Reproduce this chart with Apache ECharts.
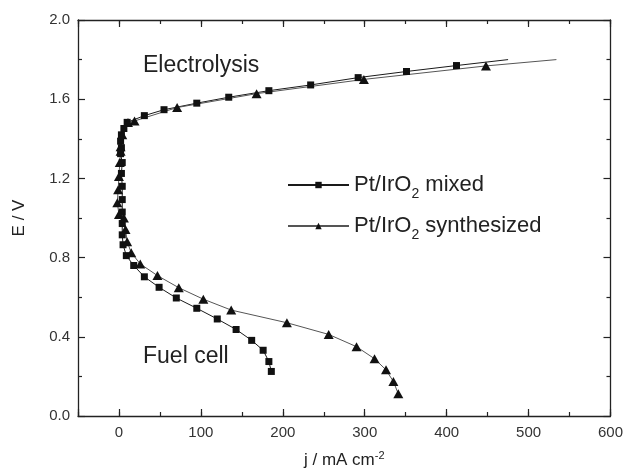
<!DOCTYPE html>
<html>
<head>
<meta charset="utf-8">
<title>Polarization curves</title>
<script src="https://cdn.jsdelivr.net/npm/echarts@6/dist/echarts.min.js"></script>
<style>
html, body { margin: 0; padding: 0; background: #fff; }
#main { width: 626px; height: 474px; }
</style>
</head>
<body>
<div id="main"></div>
<script type="text/javascript">
// points: [j in mA cm-2, E in V], from the electrolysis end down to the fuel cell end
var mixedPts = [
    [412, 1.770], [351, 1.740], [292, 1.709], [234, 1.672], [183, 1.643], [134, 1.610],
    [95, 1.580], [55, 1.547], [31, 1.517], [10, 1.483], [6, 1.452], [3, 1.420],
    [2, 1.388], [3, 1.355], [2, 1.325], [4, 1.280], [3, 1.225], [4, 1.160],
    [4, 1.093], [4, 1.030], [4, 0.972], [4, 0.915], [5, 0.865], [9, 0.810],
    [18, 0.760], [31, 0.703], [49, 0.650], [70, 0.596], [95, 0.544], [120, 0.490],
    [143, 0.437], [162, 0.382], [176, 0.332], [183, 0.275], [186, 0.225]
];
var synthPts = [
    [448, 1.768], [299, 1.700], [168, 1.628], [71, 1.558], [19, 1.490], [11, 1.482],
    [4, 1.420], [2, 1.360], [2, 1.337], [1, 1.280], [0, 1.210], [-1, 1.143],
    [-2, 1.077], [0, 1.018], [6, 1.000], [8, 0.942], [10, 0.880], [15, 0.825],
    [26, 0.768], [47, 0.709], [73, 0.648], [103, 0.590], [137, 0.535], [205, 0.471],
    [256, 0.412], [290, 0.350], [312, 0.289], [326, 0.233], [335, 0.174], [341, 0.112]
];
// the fitted lines run on past the last marker
var mixedTail = [475, 1.80];
var synthTail = [534, 1.80];
var seriesNames = ['Pt/IrO2 mixed', 'Pt/IrO2 synthesized'];
var xRange = [-50, 600];
var yRange = [0, 2.0];

var font = '"Liberation Sans", Arial, sans-serif';
var ink = '#222';
var axisLine = { show: true, onZero: false, lineStyle: { color: ink, width: 1.3 } };
var tickStyle = { color: ink, width: 1.2 };

function withTail(tail, pts) {
    return [{ value: tail, symbol: 'none' }].concat(pts);
}

// one axis with the long ticks (and labels), one overlay with the short ticks every 50
function xAxes(pos, labels) {
    return [{
        type: 'value', position: pos, min: xRange[0], max: xRange[1], splitNumber: 5,
        axisLine: axisLine,
        axisTick: { inside: true, length: 7, lineStyle: tickStyle },
        axisLabel: {
            show: labels, fontSize: 15, color: '#333', margin: 9, fontFamily: font,
            formatter: function (v) { return v < 0 ? '' : String(v); }
        },
        splitLine: { show: false }
    }, {
        type: 'value', position: pos, min: xRange[0], max: xRange[1], interval: 50,
        axisLine: { show: false, onZero: false },
        axisTick: { inside: true, length: 4, lineStyle: tickStyle },
        axisLabel: { show: false },
        splitLine: { show: false }
    }];
}

function yAxis(pos, labels) {
    return {
        type: 'value', position: pos, min: yRange[0], max: yRange[1], interval: 0.4,
        axisLine: axisLine,
        axisTick: { inside: true, length: 7, lineStyle: tickStyle },
        minorTick: { show: true, splitNumber: 2, length: 4, lineStyle: tickStyle },
        axisLabel: {
            show: labels, fontSize: 15, color: '#333', margin: 8, fontFamily: font,
            formatter: function (v) { return v.toFixed(1); }
        },
        splitLine: { show: false }
    };
}

var bottomAxes = xAxes('bottom', true);
bottomAxes[0].name = '{n|j / mA cm}{s|-2}';
bottomAxes[0].nameLocation = 'middle';
bottomAxes[0].nameGap = 34;
bottomAxes[0].nameTextStyle = {
    rich: {
        n: { fontSize: 17, color: ink, fontFamily: font },
        s: { fontSize: 11, color: ink, fontFamily: font, padding: [0, 0, 10, 0] }
    }
};
var leftAxis = yAxis('left', true);
leftAxis.name = 'E / V';
leftAxis.nameLocation = 'middle';
leftAxis.nameGap = 50;
leftAxis.nameTextStyle = { fontSize: 17, color: ink, fontFamily: font };

var myChart = echarts.init(document.getElementById('main'));
myChart.setOption({
    animation: false,
    textStyle: { fontFamily: font },
    grid: { left: 78, right: 14, top: 20, bottom: 57, containLabel: false },
    xAxis: bottomAxes.concat(xAxes('top', false)),
    yAxis: [leftAxis, yAxis('right', false)],
    legend: {
        orient: 'vertical', left: 282, top: 169,
        itemWidth: 61, itemHeight: 8, itemGap: 14,
        data: seriesNames,
        formatter: function (name) {
            var p = name.split('IrO2');
            return '{n|' + p[0] + 'IrO}{s|2}{n|' + p[1] + '}';
        },
        textStyle: {
            rich: {
                n: { fontSize: 22, color: ink, fontFamily: font },
                s: { fontSize: 14, color: ink, fontFamily: font, padding: [18, 0, 0, 0] }
            }
        }
    },
    graphic: [
        { type: 'text', left: 143, top: 54, style: { text: 'Electrolysis', fontSize: 23, fontFamily: font, fill: ink } },
        { type: 'text', left: 143, top: 345, style: { text: 'Fuel cell', fontSize: 23, fontFamily: font, fill: ink } }
    ],
    series: [{
        name: seriesNames[0], type: 'line', xAxisIndex: 0, yAxisIndex: 0,
        data: withTail(mixedTail, mixedPts),
        symbol: 'rect', symbolSize: 7,
        itemStyle: { color: '#111' },
        lineStyle: { color: '#1a1a1a', width: 1 }
    }, {
        name: seriesNames[1], type: 'line', xAxisIndex: 0, yAxisIndex: 0,
        data: withTail(synthTail, synthPts),
        symbol: 'triangle', symbolSize: [10, 9],
        itemStyle: { color: '#111' },
        lineStyle: { color: '#555', width: 1 }
    }]
});
</script>
</body>
</html>
